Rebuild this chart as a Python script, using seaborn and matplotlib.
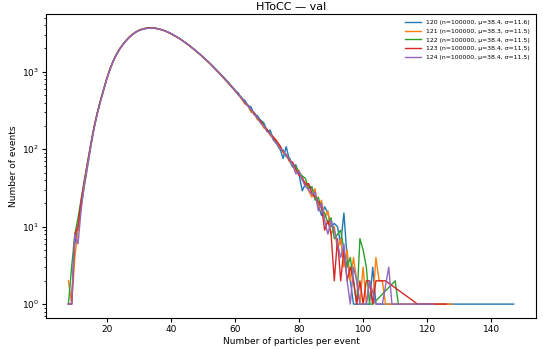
import numpy as np
import pandas as pd
import seaborn as sns
import matplotlib
matplotlib.use("Agg")
import matplotlib.pyplot as plt


# Histogram counts per multiplicity bin, first bin is n = 8 (0 = empty bin)
N_START = 8

counts_120 = [
    1, 1, 6, 10, 19, 34, 60, 108, 186, 287,
    416, 585, 812, 1083, 1372, 1671, 1962, 2241, 2522, 2790,
    3021, 3238, 3409, 3528, 3607, 3652, 3668, 3641, 3583, 3496,
    3398, 3266, 3119, 2958, 2799, 2637, 2468, 2309, 2151, 1992,
    1841, 1702, 1561, 1433, 1309, 1192, 1084, 981, 893, 802,
    724, 651, 571, 536, 452, 431, 368, 352, 281, 271,
    236, 219, 172, 176, 133, 117, 104, 76, 108, 72,
    59, 63, 47, 29, 36, 34, 31, 27, 19, 14,
    18, 15, 10, 11, 10, 6, 15, 4, 2, 1,
    1, 1, 1, 0, 1, 3, 1, 0, 0, 0,
    0, 0, 0, 0, 0, 0, 0, 0, 0, 0,
    0, 0, 0, 0, 0, 0, 0, 0, 0, 0,
    0, 0, 0, 0, 0, 0, 0, 0, 0, 0,
    0, 0, 0, 0, 0, 0, 0, 0, 0, 1,
]
counts_121 = [
    2, 1, 4, 9, 18, 36, 63, 112, 188, 293,
    418, 594, 826, 1095, 1388, 1686, 1978, 2259, 2538, 2811,
    3042, 3261, 3432, 3551, 3628, 3681, 3673, 3646, 3588, 3493,
    3381, 3252, 3104, 2941, 2783, 2622, 2455, 2291, 2133, 1973,
    1822, 1681, 1544, 1411, 1289, 1176, 1063, 962, 871, 781,
    703, 632, 566, 509, 451, 386, 368, 302, 289, 241,
    226, 188, 179, 150, 142, 129, 110, 91, 86, 69,
    67, 55, 53, 41, 37, 29, 24, 31, 17, 22,
    13, 16, 8, 10, 5, 7, 3, 5, 2, 4,
    2, 1, 3, 1, 2, 1, 4, 2, 2, 1,
    0, 0, 0, 0, 0, 0, 0, 0, 0, 0,
    0, 0, 0, 0, 0, 0, 0, 0, 0, 0,
    1,
]
counts_122 = [
    1, 3, 8, 13, 23, 41, 69, 119, 194, 296,
    428, 598, 831, 1102, 1391, 1694, 1984, 2262, 2541, 2813,
    3046, 3269, 3437, 3559, 3641, 3694, 3701, 3662, 3597, 3507,
    3394, 3258, 3106, 2947, 2796, 2641, 2466, 2297, 2139, 1984,
    1826, 1693, 1552, 1418, 1306, 1174, 1077, 968, 884, 786,
    729, 628, 588, 503, 472, 402, 372, 318, 296, 249,
    236, 207, 175, 163, 137, 120, 99, 97, 80, 78,
    61, 59, 51, 45, 42, 31, 33, 22, 24, 17,
    15, 11, 13, 7, 8, 9, 5, 3, 4, 2,
    1, 7, 5, 3, 1, 1, 0, 0, 0, 0,
    0, 0, 2, 1,
]
counts_123 = [
    1, 1, 8, 10, 22, 39, 68, 117, 193, 292,
    424, 588, 818, 1087, 1376, 1677, 1966, 2247, 2526, 2798,
    3027, 3247, 3418, 3544, 3633, 3688, 3692, 3657, 3594, 3501,
    3386, 3255, 3102, 2944, 2786, 2627, 2452, 2294, 2136, 1976,
    1828, 1687, 1547, 1422, 1297, 1185, 1066, 974, 877, 794,
    707, 645, 571, 519, 457, 407, 368, 321, 294, 255,
    232, 199, 181, 156, 144, 126, 112, 93, 85, 71,
    68, 54, 46, 43, 35, 36, 27, 24, 21, 18,
    9, 12, 8, 2, 7, 2, 5, 2, 3, 2,
    1, 2, 1, 2, 2, 1, 2, 2, 2, 2,
    0, 0, 0, 0, 0, 0, 0, 0, 0, 1,
    0, 0, 0, 0, 0, 0, 0, 0, 1,
]
counts_124 = [
    1, 1, 8, 6, 17, 37, 64, 113, 185, 284,
    411, 583, 809, 1079, 1369, 1668, 1957, 2238, 2519, 2787,
    3018, 3236, 3405, 3531, 3612, 3659, 3675, 3649, 3591, 3508,
    3402, 3271, 3122, 2961, 2793, 2628, 2463, 2306, 2145, 1981,
    1836, 1688, 1553, 1417, 1302, 1178, 1071, 966, 882, 788,
    712, 638, 574, 513, 462, 405, 362, 326, 279, 258,
    216, 201, 168, 159, 131, 119, 101, 98, 82, 75,
    63, 48, 52, 40, 33, 30, 26, 28, 16, 20,
    12, 8, 12, 9, 6, 4, 6, 2, 1, 3,
    2, 1, 0, 1, 2, 0, 1, 0, 1, 0,
    3, 1, 0, 0, 0, 0, 0, 0, 0, 0,
    0, 0, 0, 0, 1,
]

runs = ["120", "121", "122", "123", "124"]
series = [counts_120, counts_121, counts_122, counts_123, counts_124]
legend_labels = [
    "120 (n=100000, \u03bc=38.4, \u03c3=11.6)",
    "121 (n=100000, \u03bc=38.3, \u03c3=11.5)",
    "122 (n=100000, \u03bc=38.4, \u03c3=11.5)",
    "123 (n=100000, \u03bc=38.4, \u03c3=11.5)",
    "124 (n=100000, \u03bc=38.4, \u03c3=11.5)",
]

# long-form table, empty bins dropped (they are not drawn on log axis)
rows = []
for run, label, cnt in zip(runs, legend_labels, series):
    for i, c in enumerate(cnt):
        if c > 0:
            rows.append({"n": N_START + i, "count": c, "run": label})
df = pd.DataFrame(rows)

fig = plt.figure(figsize=(5.43, 3.49), dpi=100)
ax = fig.add_axes([0.085, 0.089, 0.902, 0.871])

sns.lineplot(data=df, x="n", y="count", hue="run", palette="tab10",
             estimator=None, sort=True, linewidth=1.0, ax=ax)

ax.set_yscale("log")
ax.set_title("HToCC \u2014 val", fontsize=8, pad=3)
ax.set_xlabel("Number of particles per event", fontsize=6.5, labelpad=2)
ax.set_ylabel("Number of events", fontsize=6.5, labelpad=3)
ax.tick_params(axis="both", which="major", labelsize=6.5, length=3, pad=2)
ax.tick_params(axis="y", which="minor", length=1.8)

leg = ax.legend(loc="upper right", fontsize=4.4, frameon=False,
                handlelength=2.6, labelspacing=0.55, borderaxespad=0.6)
for h in leg.get_lines():
    h.set_linewidth(1.0)

fig.savefig("out.png", dpi=100)
